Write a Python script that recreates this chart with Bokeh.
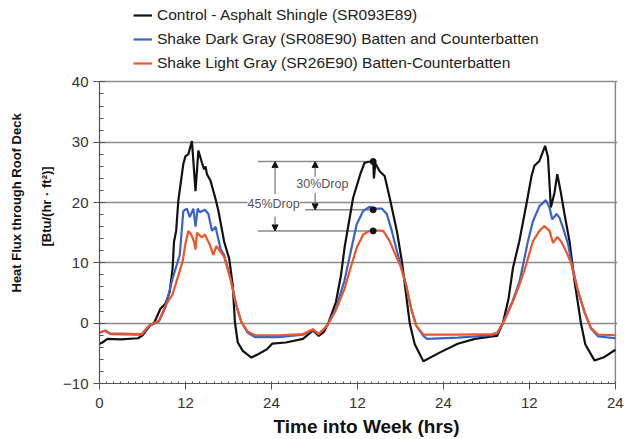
from bokeh.plotting import figure
from bokeh.models import (Range1d, FixedTicker, Label, Legend, LegendItem, Arrow,
                          NormalHead, ColumnDataSource, Title)
from bokeh.embed import file_html
from bokeh.resources import INLINE

# ---------------- data ----------------
control = [(0, -3.4), (0.4, -3.2), (1.1, -2.6), (3, -2.7), (5.4, -2.5), (6, -2.0), (7.1, -0.3),
           (7.6, 0), (8.5, 2.4), (9.2, 3.2), (9.8, 5.2), (10.2, 9.1), (10.4, 13.5), (10.7, 15.3),
           (11, 20.3), (11.7, 26.4), (12, 27.7), (12.4, 28), (12.9, 30.2), (13.4, 21.9), (13.8, 28.6),
           (14.3, 26.6), (14.6, 25.5), (14.8, 26.0), (15, 24.7), (15.5, 23.6), (16.2, 20.6),
           (16.6, 18.6), (17.4, 13.5), (18.1, 10.7), (18.6, 6.3), (18.9, 0.2), (19.3, -3.2),
           (20, -4.6), (21.2, -5.7), (22.2, -5.1), (23.4, -4.3), (24.1, -3.4), (26, -3.2),
           (28.4, -2.6), (29.8, -1.2), (30.6, -2.1), (31.3, -1.5), (32, 0.2), (33, 3.5), (33.7, 7.9),
           (34.2, 12.5), (35.4, 20.8), (36.4, 24.7), (37, 26.6), (37.8, 26.8), (38.2, 27),
           (38.3, 24), (38.5, 26.5), (39.1, 25.2), (39.8, 24.4), (40.5, 20.8), (41.5, 15.3),
           (42.2, 10.3), (43.3, 0), (44, -3.5), (45.2, -6.3), (47.6, -4.8), (50, -3.4), (52.4, -2.6),
           (54.8, -2.2), (55.5, -2.1), (56.3, 0), (57.1, 4.1), (57.7, 9.1), (58.6, 13.6),
           (59.6, 19.8), (60.3, 24.4), (60.7, 26.1), (61.4, 26.9), (62.2, 29.4), (62.6, 27.5),
           (63, 19.2), (63.5, 21.6), (63.9, 24.7), (64.4, 21.6), (64.9, 18.1), (65.6, 13.6),
           (66.3, 7), (67.2, 0), (67.8, -3.5), (69.1, -6.2), (70.5, -5.6), (72, -4.4)]

dark_gray = [(0, -1.5), (0.8, -1.3), (1.5, -1.8), (5.9, -1.9), (6.9, -0.5), (8.3, 0.3), (9.2, 2.6),
             (10.2, 7.4), (11.2, 11.3), (11.7, 18.6), (12.2, 19), (12.6, 17.6), (13.1, 19),
             (13.4, 16), (13.7, 19), (14.0, 18.4), (14.7, 18.8), (15.2, 18.1), (15.7, 15.3),
             (16.2, 16), (16.9, 12.3), (17.4, 11.3), (18.3, 7.4), (19.1, 2.9), (19.8, 0.2),
             (20.7, -1.6), (21.7, -2.3), (25, -2.3), (28.4, -1.9), (29.8, -1.1), (30.6, -1.8),
             (31.8, -0.4), (33, 2.4), (34.2, 7.1), (35.0, 11.5), (35.9, 16.4), (36.8, 18.6),
             (37.7, 19.3), (38.3, 19), (39.4, 19), (40.1, 18.1), (40.8, 15.3), (41.5, 12),
             (41.8, 10.7), (42.8, 6.3), (43.5, 2.4), (44.2, -0.4), (45.2, -2.1), (45.7, -2.6),
             (50, -2.4), (54.8, -2.0), (55.5, -1.7), (56.4, 0.2), (57.6, 3.5), (58.6, 6.8),
             (59.3, 10.7), (59.8, 13.6), (60.5, 16.9), (61.4, 19.4), (62.3, 20.4), (62.8, 19.2),
             (63.2, 17.2), (63.8, 18.1), (64.2, 17.5), (64.7, 15.8), (65.4, 13.1), (65.8, 10.5),
             (66.7, 5.7), (67.7, 1.8), (68.6, -0.9), (69.6, -2.2), (72, -2.5)]

light_gray = [(0, -1.6), (0.8, -1.2), (1.5, -1.7), (5.9, -1.8), (6.9, -0.4), (8.3, 0.4), (9.2, 2.9),
              (10.2, 4.8), (10.9, 7.5), (11.6, 10.2), (12.0, 13.2), (12.4, 15.3), (12.8, 14.7),
              (13.2, 13.5), (13.4, 12.2), (13.6, 15), (14.3, 14.2), (14.7, 14.7), (15.4, 13),
              (15.9, 11.3), (16.3, 12.8), (17.4, 11), (18.3, 7.2), (19.1, 2.9), (19.8, 0.2),
              (20.7, -1.4), (21.7, -2.0), (25, -2.0), (28.4, -1.8), (29.8, -1.0), (30.6, -1.8),
              (31.8, -0.4), (33, 2.2), (34.2, 5.7), (35.0, 9), (35.9, 12.5), (36.8, 14.7),
              (37.7, 15.3), (38.3, 15.4), (39.6, 15.3), (40.5, 13.6), (41.5, 10.8), (42.0, 9.5),
              (42.8, 6.3), (43.5, 2.4), (44.2, -0.4), (45.2, -1.9), (50, -1.9), (54.8, -1.8),
              (55.5, -1.6), (56.4, 0.2), (57.6, 3.3), (58.6, 6.3), (59.5, 9.5), (60.5, 13.6),
              (61.4, 15.3), (62.1, 16.1), (62.8, 15.3), (63.3, 13.3), (63.9, 14.3), (64.4, 13.6),
              (65.1, 12), (65.8, 10), (66.7, 5.7), (67.7, 1.8), (68.6, -0.8), (69.6, -1.9), (72, -2.0)]

series_names = ["Control - Asphalt Shingle (SR093E89)",
                "Shake Dark Gray (SR08E90) Batten and Counterbatten",
                "Shake Light Gray (SR26E90) Batten-Counterbatten"]
series_colors = ["#111111", "#3a63c9", "#f0552a"]

x_ticks = [0, 12, 24, 36, 48, 60, 72]
x_tick_labels = ["0", "12", "24", "12", "24", "12", "24"]
y_ticks = [-10, 0, 10, 20, 30, 40]
grid_values = [0, 10, 20, 30, 40]

# drop annotation (peak of day two)
drop_time = 38.2
drop_levels = [26.8, 18.8, 15.3]          # control, dark gray, light gray peaks
drop_line_starts = [22.1, 28.7, 22.1]
arrow45_x = 24.5
arrow30_x = 30.1

FONT = "Liberation Sans"
GRAY = "#8a8a8a"

# the frame reaches up to the top of the page so that the legend sits inside it
p = figure(width=626, height=439, output_backend="svg", toolbar_location=None,
           x_range=Range1d(0, 72.3), y_range=Range1d(-10, 53),
           min_border_left=99, min_border_right=9, min_border_top=3, min_border_bottom=56)
p.background_fill_color = "white"
p.border_fill_color = "white"
p.outline_line_color = None

# grid (the line at 40 is the top edge of the chart box)
p.xgrid.visible = False
p.ygrid.ticker = FixedTicker(ticks=grid_values)
p.ygrid.bounds = (0, 72)
p.ygrid.grid_line_color = GRAY
p.ygrid.grid_line_width = 1.5
# right edge of the chart box
p.segment(x0=[72], y0=[-10], x1=[72], y1=[40], line_color=GRAY, line_width=1.5)

# axes
p.xaxis.ticker = FixedTicker(ticks=x_ticks, minor_ticks=list(range(0, 73)))
p.xaxis.major_label_overrides = dict(zip(x_ticks, x_tick_labels))
p.xaxis.bounds = (0, 72)
p.yaxis.ticker = FixedTicker(ticks=y_ticks, minor_ticks=list(range(-10, 41, 2)))
p.yaxis.bounds = (-10, 40)
for ax in (p.xaxis[0], p.yaxis[0]):
    ax.axis_line_color = "#555555"
    ax.axis_line_width = 1.2
    ax.major_tick_line_color = "#555555"
    ax.minor_tick_line_color = "#555555"
    ax.major_label_text_font = FONT
    ax.major_label_text_font_size = "15px"
    ax.major_label_text_color = "#333333"
p.xaxis.major_tick_in = 0
p.xaxis.major_tick_out = 6
p.xaxis.minor_tick_in = 2
p.xaxis.minor_tick_out = 0
p.yaxis.major_tick_in = 6
p.yaxis.major_tick_out = 6
p.yaxis.minor_tick_in = 4
p.yaxis.minor_tick_out = 0
p.xaxis.major_label_standoff = 8
p.yaxis.major_label_standoff = 5

# reference lines for the drop annotation
p.segment(x0=drop_line_starts, y0=drop_levels, x1=[drop_time] * 3, y1=drop_levels,
          line_color=GRAY, line_width=1.5)

renderers = []
for data, color in zip([control, dark_gray, light_gray], series_colors):
    src = ColumnDataSource(dict(t=[a for a, b in data], v=[b for a, b in data]))
    r = p.line("t", "v", source=src, line_color=color, line_width=2.2)
    renderers.append(r)

p.scatter(x=[drop_time] * 3, y=drop_levels, size=6, color="#111111")

# arrows
head = dict(size=6, fill_color="#111111", line_color="#111111")
arrows = [
    (arrow45_x, 21.4, arrow45_x, drop_levels[0]),
    (arrow45_x, 17.7, arrow45_x, drop_levels[2]),
    (arrow30_x, 23.8, arrow30_x, drop_levels[0]),
    (arrow30_x, 21.6, arrow30_x, drop_levels[1]),
]
for xs, ys, xe, ye in arrows:
    p.add_layout(Arrow(end=NormalHead(**head), x_start=xs, y_start=ys, x_end=xe, y_end=ye,
                       line_color="#777777", line_width=1.2))

p.add_layout(Label(x=24.3, y=19.8, text="45%Drop", text_font=FONT, text_font_size="12.5px",
                   text_color="#555555", text_align="center", text_baseline="middle",
                   background_fill_color="white"))
p.add_layout(Label(x=31.1, y=23.1, text="30%Drop", text_font=FONT, text_font_size="12.5px",
                   text_color="#555555", text_align="center", text_baseline="middle",
                   background_fill_color="white"))

# axis titles in side panels
p.add_layout(Title(text="[Btu/(hr · ft²)]", align="left", offset=137, standoff=14,
                   text_font=FONT, text_font_style="bold", text_font_size="13px",
                   text_color="#111111"), "left")
p.add_layout(Title(text="Heat Flux through Roof Deck", align="left", offset=91, standoff=12,
                   text_font=FONT, text_font_style="bold", text_font_size="13px",
                   text_color="#111111"), "left")
p.add_layout(Title(text="Time into Week (hrs)", align="left", offset=174, standoff=6,
                   text_font=FONT, text_font_style="bold", text_font_size="19px",
                   text_color="#111111"), "below")

legend = Legend(items=[LegendItem(label=n, renderers=[r]) for n, r in zip(series_names, renderers)],
                location=(34, 309), label_text_font=FONT, label_text_font_size="15.5px",
                label_text_color="#222222", glyph_width=19, glyph_height=22, label_height=22,
                spacing=2, padding=0, margin=0, border_line_color=None,
                background_fill_alpha=0, label_standoff=5)
p.add_layout(legend, "center")

open("out.html", "w").write(file_html(p, INLINE))
